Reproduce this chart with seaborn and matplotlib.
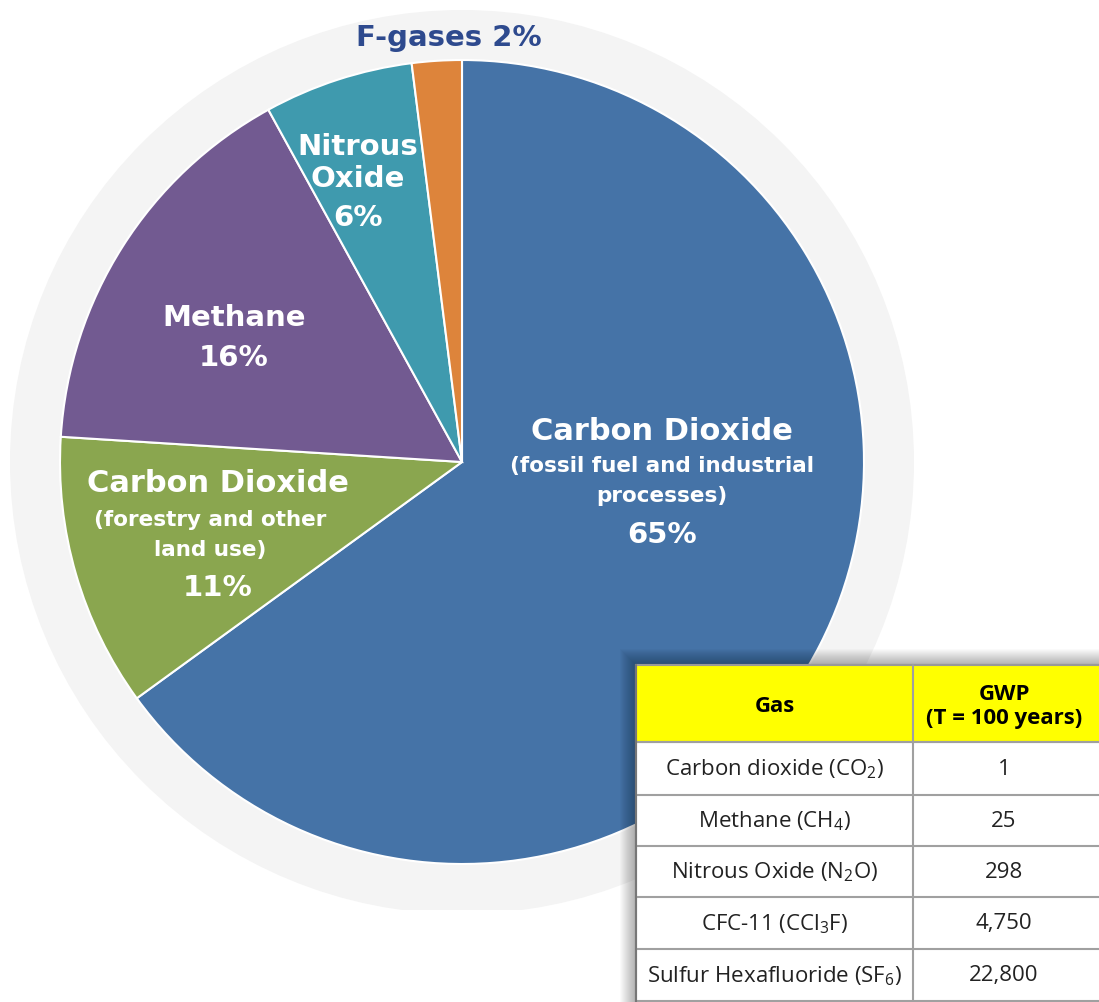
import numpy as np
import matplotlib.pyplot as plt
import matplotlib.patches as mpatches
import seaborn as sns

# pie data
gas_names = ['Carbon Dioxide (fossil fuel and industrial processes)',
             'Carbon Dioxide (forestry and other land use)',
             'Methane', 'Nitrous Oxide', 'F-gases']
gas_share = [65, 11, 16, 6, 2]

# table data
table_header = ['Gas', 'GWP\n(T = 100 years)']
table_gas = ['Carbon dioxide (CO$_2$)', 'Methane (CH$_4$)', 'Nitrous Oxide (N$_2$O)',
             'CFC-11 (CCl$_3$F)', 'Sulfur Hexafluoride (SF$_6$)']
table_gwp = ['1', '25', '298', '4,750', '22,800']

slice_colors = ['#4573a7', '#8aa64f', '#725a91', '#3f9aae', '#dd843b']

W, H = 1099, 1003
sns.set_theme(style='white')
plt.rcParams['font.family'] = ['DejaVu Sans']
plt.rcParams['mathtext.default'] = 'regular'

def Y(y):
    return H - y

fig = plt.figure(figsize=(W / 100, H / 100), dpi=100)
ax = fig.add_axes([0, 0, 1, 1])

cx, cy = 462, 463
# grey backdrop disc, cut flat at the bottom
ax.add_patch(mpatches.Circle((cx, Y(cy)), 452, fc='#f4f4f4', ec='none', zorder=0))
ax.add_patch(mpatches.Rectangle((0, -5), W, Y(911) + 5, fc='white', ec='none', zorder=0.5))

wedges, _ = ax.pie(gas_share, colors=slice_colors, center=(cx, Y(cy)), radius=402,
                   startangle=90, counterclock=False,
                   wedgeprops=dict(edgecolor='white', linewidth=1.5))
for w in wedges:
    w.set_zorder(1)

ax.set_xlim(0, W)
ax.set_ylim(0, H)
ax.set_aspect('equal')
ax.axis('off')

big = dict(color='white', fontweight='bold', ha='center', va='center', fontsize=21, zorder=3)
small = dict(color='white', fontweight='bold', ha='center', va='center', fontsize=15.5, zorder=3)

ax.text(662, Y(431), 'Carbon Dioxide', **dict(big, fontsize=22))
ax.text(662, Y(466), '(fossil fuel and industrial', **small)
ax.text(662, Y(496), 'processes)', **small)
ax.text(662, Y(535), f'{gas_share[0]}%', **big)

ax.text(218, Y(484), 'Carbon Dioxide', **dict(big, fontsize=22))
ax.text(210, Y(520), '(forestry and other', **small)
ax.text(210, Y(550), 'land use)', **small)
ax.text(218, Y(588), f'{gas_share[1]}%', **big)

ax.text(234, Y(318), 'Methane', **big)
ax.text(234, Y(358), f'{gas_share[2]}%', **big)

ax.text(358, Y(147), 'Nitrous', **big)
ax.text(358, Y(179), 'Oxide', **big)
ax.text(358, Y(218), f'{gas_share[3]}%', **big)

ax.text(449, Y(38), f'F-gases {gas_share[4]}%', color='#2e4a8e', fontweight='bold',
        ha='center', va='center', fontsize=21, zorder=3)

# table with drop shadow
tx0, tx1, tx2 = 636, 913, 1110
rows_y = [666, 743, 796, 847, 898, 950, 1002]
for k in range(16, 0, -1):
    ax.add_patch(mpatches.Rectangle((tx0 - k, -20), W, Y(rows_y[0]) + 20 + k,
                                    fc='black', ec='none', alpha=0.02, zorder=4))
ax.add_patch(mpatches.Rectangle((tx0, -20), W, Y(rows_y[0]) + 20,
                                fc='white', ec='#777777', lw=1.5, zorder=5))
ax.add_patch(mpatches.Rectangle((tx0, Y(rows_y[1])), tx2 - tx0, rows_y[1] - rows_y[0],
                                fc='#ffff00', ec='#999999', lw=1.5, zorder=5))
for yy in rows_y[1:]:
    ax.plot([tx0, tx2], [Y(yy), Y(yy)], color='#a0a0a0', lw=1.5, zorder=6)
ax.plot([tx1, tx1], [Y(rows_y[0]), -20], color='#a0a0a0', lw=1.5, zorder=6)
ax.plot([tx0, tx0], [Y(rows_y[0]), -20], color='#777777', lw=1.5, zorder=6)

tfont = ['Open Sans', 'DejaVu Sans']
c1 = (tx0 + tx1) / 2
c2 = 1004
hy = (rows_y[0] + rows_y[1]) / 2
ax.text(c1, Y(hy + 2), table_header[0], fontweight='bold', fontsize=16, ha='center',
        va='center', family=tfont, color='black', zorder=7)
ax.text(c2, Y(hy + 2), table_header[1], fontweight='bold', fontsize=16, ha='center',
        va='center', family=tfont, color='black', zorder=7, linespacing=1.2)
for i, (g, v) in enumerate(zip(table_gas, table_gwp)):
    my = (rows_y[i + 1] + rows_y[i + 2]) / 2
    ax.text(c1, Y(my), g, fontsize=16, ha='center', va='center', family=tfont,
            color='#222222', zorder=7)
    ax.text(c2, Y(my), v, fontsize=16, ha='center', va='center', family=tfont,
            color='#222222', zorder=7)

fig.savefig('out.png', dpi=100, facecolor='white')
